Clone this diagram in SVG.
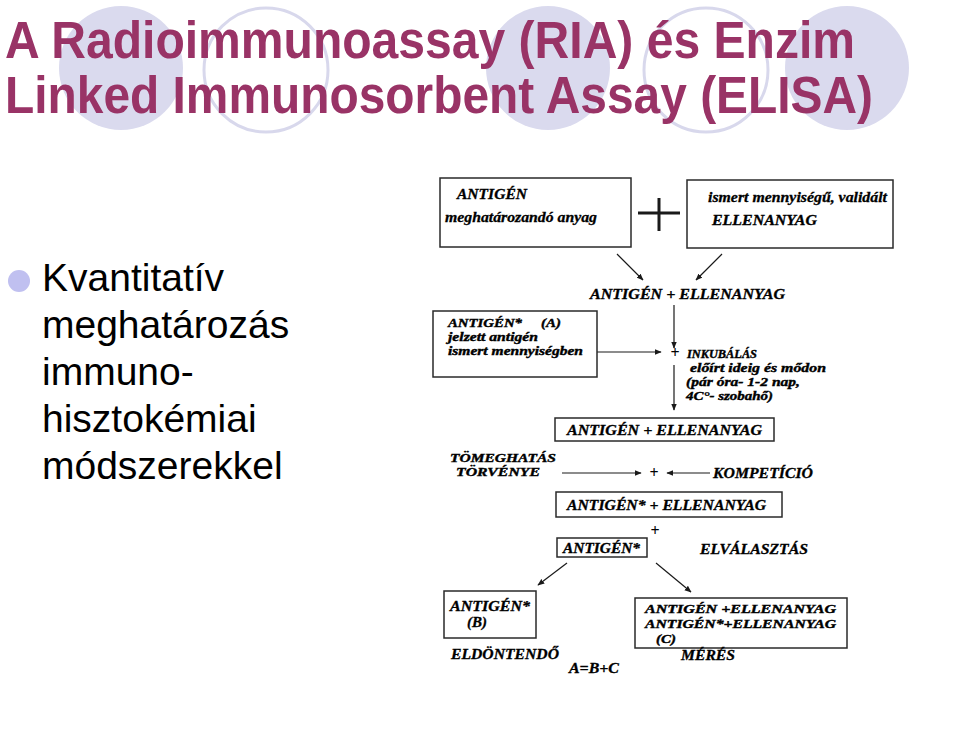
<svg xmlns="http://www.w3.org/2000/svg" width="960" height="737" viewBox="0 0 960 737">
<defs>
<style>
.title{font-family:"Liberation Sans",Arial,sans-serif;font-weight:bold;font-size:51px;fill:#993366}
.bul{font-family:"Liberation Sans",Arial,sans-serif;font-size:39px;fill:#000}
.sc{font-family:"Liberation Serif","Times New Roman",serif;font-weight:bold;font-style:italic;font-size:14.5px;fill:#000;stroke:#000;stroke-width:0.3}
.sm{font-size:12.2px;stroke-width:0.4}
.pl{font-family:"Liberation Serif","Times New Roman",serif;font-weight:bold;font-size:16px;fill:#000}
.box{fill:none;stroke:#2a2a2a;stroke-width:1.5}
.ar{stroke:#1a1a1a;stroke-width:1.2;fill:none}
.fc{fill:#dadaee}
.oc{fill:none;stroke:#d8d8ec;stroke-width:3}
</style>
<marker id="ah" viewBox="0 0 10 10" refX="9" refY="5" markerWidth="7" markerHeight="7" markerUnits="userSpaceOnUse" orient="auto">
<path d="M0,1 L10,5 L0,9 z" fill="#1a1a1a"/>
</marker>
</defs>
<rect width="960" height="737" fill="#fff"/>
<g id="decor">
<circle class="fc" cx="121" cy="68" r="62"/>
<circle class="oc" cx="266" cy="70" r="62"/>
<circle class="fc" cx="548" cy="68" r="62"/>
<circle class="oc" cx="706" cy="70" r="62"/>
<circle class="fc" cx="847" cy="68" r="62"/>
</g>
<g id="title">
<text class="title" x="5" y="58" textLength="850" lengthAdjust="spacingAndGlyphs">A Radioimmunoassay (RIA) és Enzim</text>
<text class="title" x="5" y="113" textLength="868" lengthAdjust="spacingAndGlyphs">Linked Immunosorbent Assay (ELISA)</text>
</g>
<g id="bullet">
<circle cx="19" cy="281" r="11" fill="#c0c0f0"/>
<text class="bul" x="42" y="291">Kvantitatív</text>
<text class="bul" x="42" y="338">meghatározás</text>
<text class="bul" x="42" y="385">immuno-</text>
<text class="bul" x="42" y="432">hisztokémiai</text>
<text class="bul" x="42" y="479">módszerekkel</text>
</g>
<g id="connectors">
<path class="ar" d="M617,254 L643,280" marker-end="url(#ah)"/>
<path class="ar" d="M722,254 L696,280" marker-end="url(#ah)"/>
<path class="ar" d="M674,305 L674,348" marker-end="url(#ah)"/>
<path class="ar" d="M597,352 L661,352" marker-end="url(#ah)"/>
<path class="ar" d="M674,365 L674,410" marker-end="url(#ah)"/>
<path class="ar" d="M562,473 L641,473" marker-end="url(#ah)"/>
<path class="ar" d="M710,473 L667,473" marker-end="url(#ah)"/>
<path class="ar" d="M567,563 L538,585" marker-end="url(#ah)"/>
<path class="ar" d="M656,563 L691,592" marker-end="url(#ah)"/>
<path d="M638,213 H680 M659,198 V231" stroke="#1a1a1a" stroke-width="3" fill="none"/>
</g>
<g id="antigen">
<rect class="box" x="440" y="178" width="191" height="69"/>
<text class="sc" x="457" y="199" textLength="70" lengthAdjust="spacingAndGlyphs">ANTIGÉN</text>
<text class="sc" x="445" y="222" textLength="152" lengthAdjust="spacingAndGlyphs">meghatározandó anyag</text>
</g>
<g id="ellenanyag">
<rect class="box" x="687" y="180" width="206" height="68"/>
<text class="sc" x="708" y="202" textLength="179" lengthAdjust="spacingAndGlyphs">ismert mennyiségű, validált</text>
<text class="sc" x="712" y="225" textLength="105" lengthAdjust="spacingAndGlyphs">ELLENANYAG</text>
</g>
<g id="complex1">
<text class="sc" x="590" y="299" textLength="195" lengthAdjust="spacingAndGlyphs">ANTIGÉN + ELLENANYAG</text>
</g>
<g id="antigenA">
<rect class="box" x="433" y="311" width="164" height="66"/>
<text class="sc sm" x="448" y="327" textLength="74" lengthAdjust="spacingAndGlyphs">ANTIGÉN*</text>
<text class="sc sm" x="541" y="327" textLength="20" lengthAdjust="spacingAndGlyphs">(A)</text>
<text class="sc sm" x="448" y="341" textLength="90" lengthAdjust="spacingAndGlyphs">jelzett antigén</text>
<text class="sc sm" x="448" y="355" textLength="135" lengthAdjust="spacingAndGlyphs">ismert mennyiségben</text>
</g>
<g id="inkubalas">
<text class="pl" x="675" y="358" text-anchor="middle">+</text>
<text class="sc sm" x="687" y="358" textLength="70" lengthAdjust="spacingAndGlyphs">INKUBÁLÁS</text>
<text class="sc sm" x="690" y="372" textLength="136" lengthAdjust="spacingAndGlyphs">előírt ideig és mődon</text>
<text class="sc sm" x="686" y="386" textLength="114" lengthAdjust="spacingAndGlyphs">(pár óra- 1-2 nap,</text>
<text class="sc sm" x="686" y="400" textLength="87" lengthAdjust="spacingAndGlyphs">4C°- szobahő)</text>
</g>
<g id="complex2">
<rect class="box" x="555" y="418" width="219" height="23"/>
<text class="sc" x="567" y="435" textLength="195" lengthAdjust="spacingAndGlyphs">ANTIGÉN  + ELLENANYAG</text>
</g>
<g id="tomeghatas">
<text class="sc sm" x="450" y="462" textLength="106" lengthAdjust="spacingAndGlyphs">TÖMEGHATÁS</text>
<text class="sc sm" x="456" y="476" textLength="84" lengthAdjust="spacingAndGlyphs">TÖRVÉNYE</text>
<text class="pl" x="654" y="478" text-anchor="middle">+</text>
<text class="sc" x="713" y="478" textLength="100" lengthAdjust="spacingAndGlyphs">KOMPETÍCIÓ</text>
</g>
<g id="complex3">
<rect class="box" x="556" y="492" width="226" height="25"/>
<text class="sc" x="567" y="510" textLength="199" lengthAdjust="spacingAndGlyphs">ANTIGÉN* + ELLENANYAG</text>
</g>
<g id="separation">
<text class="pl" x="655" y="536" text-anchor="middle">+</text>
<rect class="box" x="557" y="538" width="90" height="19"/>
<text class="sc" x="563" y="553" textLength="77" lengthAdjust="spacingAndGlyphs">ANTIGÉN*</text>
<text class="sc" x="700" y="554" textLength="108" lengthAdjust="spacingAndGlyphs">ELVÁLASZTÁS</text>
</g>
<g id="antigenB">
<rect class="box" x="444" y="591" width="92" height="47"/>
<text class="sc" x="450" y="611" textLength="80" lengthAdjust="spacingAndGlyphs">ANTIGÉN*</text>
<text class="sc" x="467" y="627" textLength="20" lengthAdjust="spacingAndGlyphs">(B)</text>
<text class="sc" x="451" y="659" textLength="108" lengthAdjust="spacingAndGlyphs">ELDÖNTENDŐ</text>
</g>
<g id="complexC">
<rect class="box" x="635" y="598" width="212" height="50"/>
<text class="sc sm" x="645" y="613" textLength="191" lengthAdjust="spacingAndGlyphs">ANTIGÉN +ELLENANYAG</text>
<text class="sc sm" x="645" y="628" textLength="191" lengthAdjust="spacingAndGlyphs">ANTIGÉN*+ELLENANYAG</text>
<text class="sc sm" x="656" y="643" textLength="20" lengthAdjust="spacingAndGlyphs">(C)</text>
<text class="sc" x="681" y="660" textLength="54" lengthAdjust="spacingAndGlyphs">MÉRÉS</text>
</g>
<g id="formula">
<text class="sc" x="569" y="673" textLength="50" lengthAdjust="spacingAndGlyphs">A=B+C</text>
</g>
</svg>
